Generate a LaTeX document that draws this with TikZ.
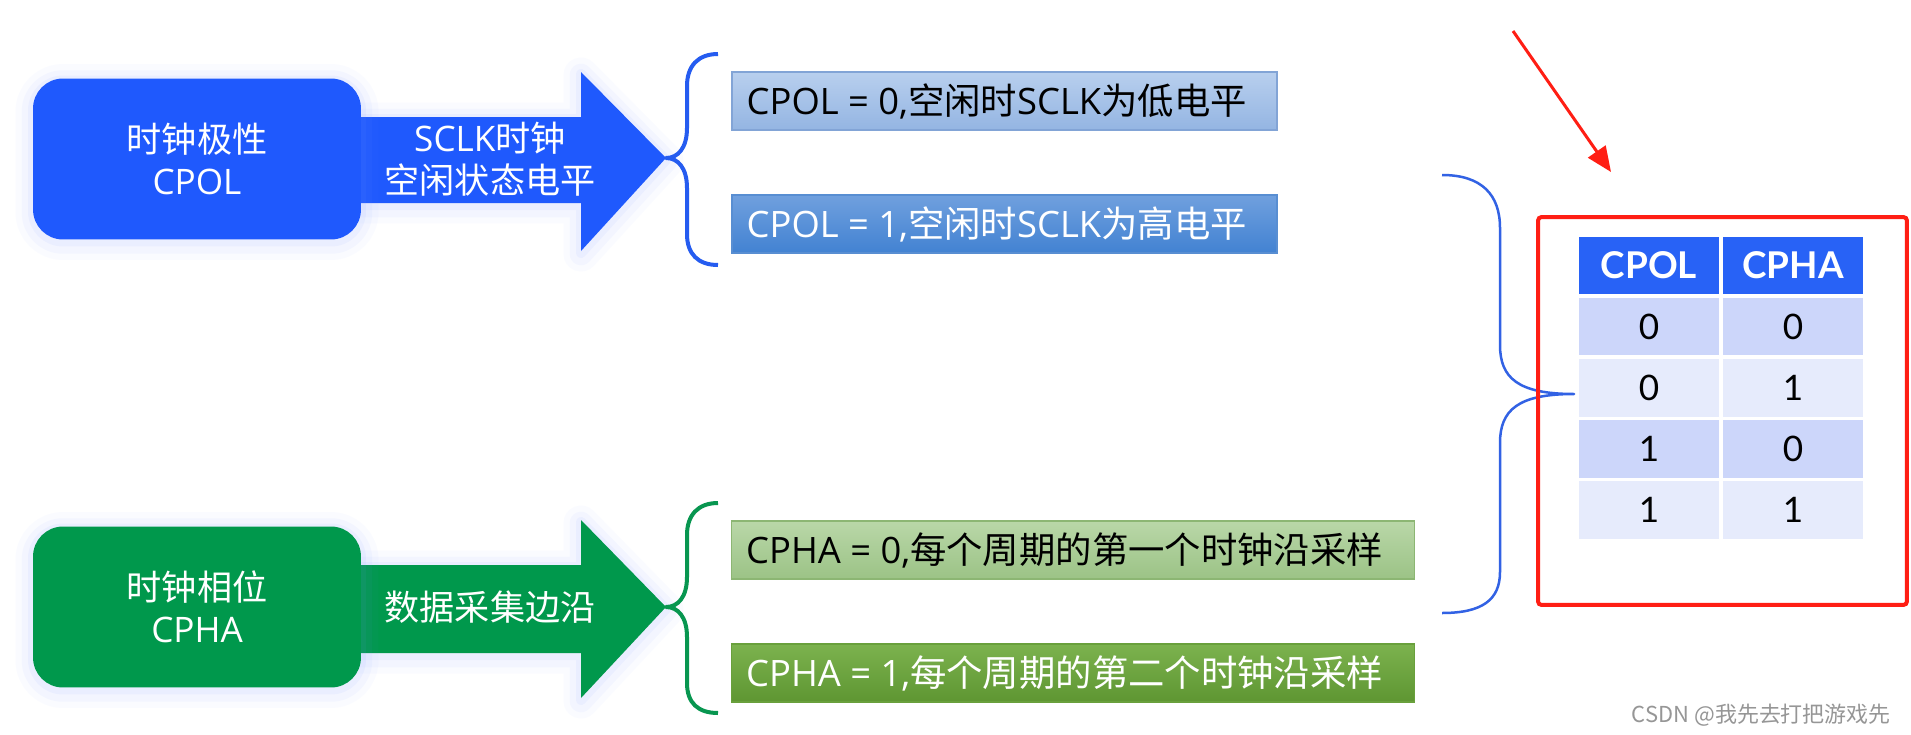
\documentclass[tikz,border=0pt]{standalone}
\usepackage{fontspec}
\usetikzlibrary{positioning,arrows.meta}
\setmainfont{Open Sans}
\newfontfamily\zh{Noto Sans CJK SC}
\newfontfamily\tabfont{Lato}
\newcommand{\zw}[1]{{\zh #1}}

\definecolor{polbluec}{RGB}{31,89,253}
\definecolor{phagreenc}{RGB}{0,152,76}
\definecolor{glowc}{RGB}{120,150,255}
\definecolor{polbracec}{RGB}{37,92,240}
\definecolor{phabracec}{RGB}{8,150,80}
\definecolor{bigbracec}{RGB}{50,98,228}
\definecolor{lowtopc}{RGB}{184,207,238}
\definecolor{lowbotc}{RGB}{148,181,226}
\definecolor{lowlinec}{RGB}{130,164,214}
\definecolor{hightopc}{RGB}{112,160,222}
\definecolor{highbotc}{RGB}{66,130,210}
\definecolor{highlinec}{RGB}{88,142,210}
\definecolor{firsttopc}{RGB}{185,215,168}
\definecolor{firstbotc}{RGB}{156,195,134}
\definecolor{firstlinec}{RGB}{140,182,115}
\definecolor{secondtopc}{RGB}{124,178,78}
\definecolor{secondbotc}{RGB}{94,150,50}
\definecolor{secondlinec}{RGB}{105,160,60}
\definecolor{tabheadc}{RGB}{40,98,246}
\definecolor{rowdarkc}{RGB}{204,214,250}
\definecolor{rowlightc}{RGB}{230,235,252}
\definecolor{alertredc}{RGB}{255,30,20}
\definecolor{markgrayc}{RGB}{150,150,150}

\begin{document}
\begin{tikzpicture}[
			x=0.02cm, y=-0.02cm,
			glow/.style={preaction={draw=glowc, line width=0.7cm, opacity=0.03, line join=round, transform canvas={yshift=-0.06cm}}, preaction={draw=glowc, line width=0.45cm, opacity=0.05, line join=round, transform canvas={yshift=-0.06cm}}, preaction={draw=glowc, line width=0.2cm, opacity=0.07, line join=round, transform canvas={yshift=-0.04cm}}},
			keybox/.style={rectangle, rounded corners=0.6cm, minimum width=6.56cm, minimum height=3.22cm, align=center, text=white, font=\fontsize{20}{24}\selectfont, glow},
			arrowtext/.style={align=center, text=white, font=\fontsize{20}{24}\selectfont},
			optbox/.style={rectangle, minimum height=1.16cm, line width=0.03cm},
			opttext/.style={anchor=west, inner sep=0pt, font=\fontsize{20.7}{24}\selectfont},
			brace/.style={line width=0.08cm, line join=round},
			cell/.style={rectangle, draw=white, line width=0.06cm, minimum width=2.86cm, minimum height=1.22cm, inner sep=0pt, font=\tabfont\fontsize{20}{24}\selectfont},
			headcell/.style={cell, fill=tabheadc, text=white, font=\tabfont\bfseries\fontsize{21}{25}\selectfont}
		]
		\fill[white] (0,0) rectangle (1911,734);
		\useasboundingbox (0,0) rectangle (1911,734);

		% Polarita del clock
		\fill[polbluec, glow] (340,117) -- (581,117) -- (581,72) -- (666,158) -- (581,251) -- (581,203) -- (340,203) -- cycle;
		\node[keybox, fill=polbluec] (cpol) at (197,159) {\zw{时钟极性}\\CPOL};
		\node[arrowtext] (cpolarrow) at (490,159) {SCLK\zw{时钟}\\\zw{空闲状态电平}};
		\draw[brace, polbracec] (718,54) .. controls (698,54) and (687,66) .. (687,86) -- (687,128) .. controls (687,148) and (678,158) .. (666,158) .. controls (678,158) and (687,168) .. (687,188) -- (687,234) .. controls (687,254) and (698,265) .. (718,265);

		\node[optbox, draw=lowlinec, top color=lowtopc, bottom color=lowbotc, minimum width=10.9cm] (cpol0) at (1004.5,101) {};
		\node[opttext] (cpol0lbl) at ([xshift=0.3cm]cpol0.west) {CPOL = 0,\zw{空闲时}SCLK\zw{为低电平}};
		\node[optbox, draw=highlinec, top color=hightopc, bottom color=highbotc, minimum width=10.9cm] (cpol1) at (1004.5,224) {};
		\node[opttext, text=white] (cpol1lbl) at ([xshift=0.3cm]cpol1.west) {CPOL = 1,\zw{空闲时}SCLK\zw{为高电平}};

		% Fase del clock
		\fill[phagreenc, glow] (340,565) -- (581,565) -- (581,520) -- (666,607) -- (581,698) -- (581,653) -- (340,653) -- cycle;
		\node[keybox, fill=phagreenc] (cpha) at (197,607) {\zw{时钟相位}\\CPHA};
		\node[arrowtext] (cphaarrow) at (490,607) {\zw{数据采集边沿}};
		\draw[brace, phabracec] (718,503) .. controls (698,503) and (687,515) .. (687,535) -- (687,577) .. controls (687,597) and (678,607) .. (666,607) .. controls (678,607) and (687,617) .. (687,637) -- (687,683) .. controls (687,703) and (698,713) .. (718,713);

		\node[optbox, draw=firstlinec, top color=firsttopc, bottom color=firstbotc, minimum width=13.66cm] (cpha0) at (1073,550) {};
		\node[opttext] (cpha0lbl) at ([xshift=0.3cm]cpha0.west) {CPHA = 0,\zw{每个周期的第一个时钟沿采样}};
		\node[optbox, draw=secondlinec, top color=secondtopc, bottom color=secondbotc, minimum width=13.66cm] (cpha1) at (1073,673) {};
		\node[opttext, text=white] (cpha1lbl) at ([xshift=0.3cm]cpha1.west) {CPHA = 1,\zw{每个周期的第二个时钟沿采样}};

		% Graffa verso la tabella
		\draw[bigbracec, line width=0.05cm, line join=round] (1442,175) .. controls (1482,175) and (1500,195) .. (1500,228) -- (1500,345) .. controls (1500,378) and (1518,394) .. (1574,394) .. controls (1518,394) and (1500,410) .. (1500,443) -- (1500,572) .. controls (1500,600) and (1482,613) .. (1442,613);

		% Tabella delle modalita
		\node[headcell] (hdpol) at (1649,265.5) {CPOL};
		\node[headcell] (hdpha) at (1793,265.5) {CPHA};
		\node[cell, fill=rowdarkc] (r1pol) at (1649,326.5) {0};
		\node[cell, fill=rowdarkc] (r1pha) at (1793,326.5) {0};
		\node[cell, fill=rowlightc] (r2pol) at (1649,387.5) {0};
		\node[cell, fill=rowlightc] (r2pha) at (1793,387.5) {1};
		\node[cell, fill=rowdarkc] (r3pol) at (1649,448.5) {1};
		\node[cell, fill=rowdarkc] (r3pha) at (1793,448.5) {0};
		\node[cell, fill=rowlightc] (r4pol) at (1649,509.5) {1};
		\node[cell, fill=rowlightc] (r4pha) at (1793,509.5) {1};

		\node[draw=alertredc, line width=0.08cm, rounded corners=2pt, minimum width=7.38cm, minimum height=7.76cm] (frame) at (1722.5,411) {};

		% Freccia rossa
		\coordinate (pointfrom) at (1513,31);
		\coordinate (pointto) at (1611,172);
		\draw[alertredc, line width=0.06cm, -{Triangle[length=0.5cm, width=0.42cm]}] (pointfrom) -- (pointto);

		\node[anchor=east, text=markgrayc, font=\zh\fontsize{12.5}{15}\selectfont] (mark) at (1897,715) {CSDN @我先去打把游戏先};

	\end{tikzpicture}
\end{document}
